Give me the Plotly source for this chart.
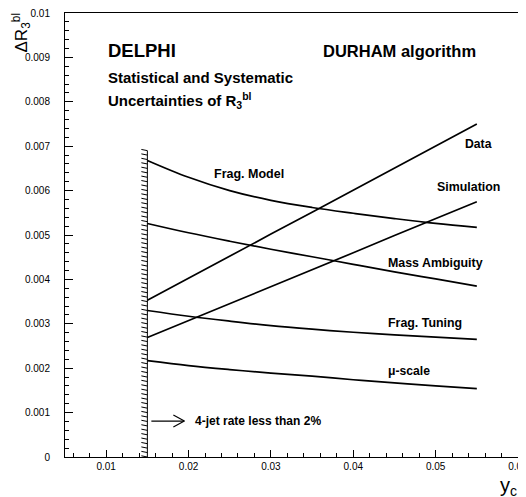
import plotly.graph_objects as go

# ---- data ----
yc = [0.015, 0.020, 0.025, 0.030, 0.035, 0.040, 0.045, 0.050, 0.055]
data_unc = [0.00353, 0.00403, 0.00453, 0.00502, 0.00551, 0.00601, 0.00650, 0.00700, 0.00750]
simulation = [0.00269, 0.00307, 0.00345, 0.00384, 0.00422, 0.00460, 0.00499, 0.00537, 0.00575]
frag_model = [0.00668, 0.00630, 0.00600, 0.00578, 0.00562, 0.00549, 0.00537, 0.00526, 0.00517]
mass_ambiguity = [0.00526, 0.00505, 0.00486, 0.00468, 0.00451, 0.00434, 0.00417, 0.00401, 0.00385]
frag_tuning = [0.00330, 0.00317, 0.00306, 0.00296, 0.00288, 0.00281, 0.00275, 0.00270, 0.00265]
mu_scale = [0.00217, 0.00206, 0.00197, 0.00189, 0.00182, 0.00174, 0.00167, 0.00160, 0.00154]

x_tickvals = [0.01, 0.02, 0.03, 0.04, 0.05, 0.06]
x_ticktext = ["0.01", "0.02", "0.03", "0.04", "0.05", "0.06"]
y_tickvals = [0, 0.001, 0.002, 0.003, 0.004, 0.005, 0.006, 0.007, 0.008, 0.009, 0.01]
y_ticktext = ["0", "0.001", "0.002", "0.003", "0.004", "0.005", "0.006", "0.007", "0.008", "0.009", "0.01"]

cut_x = 0.015          # 4-jet rate < 2% boundary
cut_top = 0.0069
hatch_step = 0.0001

FONT = "Liberation Sans"
W, H = 518, 489
L, R, T, B = 57, 8, 5, 40
x_range = [0.005, 0.06]
y_range = [0, 0.01]
px_x = (x_range[1] - x_range[0]) / (W - L - R)
px_y = (y_range[1] - y_range[0]) / (H - T - B)

fig = go.Figure()

for s, shp in [(data_unc, "linear"), (simulation, "linear"), (frag_model, "spline"),
               (mass_ambiguity, "spline"), (frag_tuning, "spline"), (mu_scale, "spline")]:
    fig.add_trace(go.Scatter(x=yc, y=s, mode="lines", line=dict(color="black", width=1.7, shape=shp),
                             hoverinfo="skip", showlegend=False))

# cut line with hatching
hx, hy = [cut_x, cut_x, None], [0, cut_top, None]
n = int(round(cut_top / hatch_step))
for i in range(n + 1):
    y0 = i * hatch_step
    hx += [cut_x, cut_x - 6 * px_x, None]
    hy += [y0, y0 + 1.2 * px_y, None]
fig.add_trace(go.Scatter(x=hx, y=hy, mode="lines", line=dict(color="black", width=1),
                         hoverinfo="skip", showlegend=False))

# arrow
ay = 0.00081
ax0 = cut_x + 4 * px_x
ax1 = cut_x + 37 * px_x
fig.add_trace(go.Scatter(
    x=[ax0, ax1, None, ax1 - 11 * px_x, ax1, ax1 - 11 * px_x],
    y=[ay, ay, None, ay + 6 * px_y, ay, ay - 6 * px_y],
    mode="lines", line=dict(color="black", width=1.2), hoverinfo="skip", showlegend=False))

def txt(x, y, s, size=12, bold=True, xanchor="left", xref="x", yref="y", angle=0):
    fig.add_annotation(x=x, y=y, xref=xref, yref=yref, text=("<b>%s</b>" % s) if bold else s,
                       showarrow=False, xanchor=xanchor, yanchor="middle", textangle=angle,
                       font=dict(family=FONT, size=size, color="black"))

txt(0.0100, 0.00915, "DELPHI", size=18.5)
txt(0.0100, 0.00855, "Statistical and Systematic", size=15)
txt(0.0100, 0.00803, "Uncertainties of R<sub>3</sub><sup>bl</sup>", size=15)
txt(0.0361, 0.00915, "DURHAM algorithm", size=16.5)
txt(0.0229, 0.00638, "Frag. Model", size=12.5)
txt(0.0533, 0.00706, "Data", size=12.2)
txt(0.0499, 0.00608, "Simulation", size=12.4)
txt(0.0440, 0.00436, "Mass Ambiguity", size=12.4)
txt(0.0440, 0.00302, "Frag. Tuning", size=12.4)
txt(0.0440, 0.00193, "μ-scale", size=12.2)
txt(0.0205, 0.00081, "4-jet rate less than 2%", size=12)

txt(-0.096, 0.955, "ΔR<sub>3</sub><sup>bl</sup>", size=17, bold=False, xanchor="center",
    xref="paper", yref="paper", angle=-90)
txt(0.98, -0.066, "y<sub>c</sub>", size=20, bold=False, xanchor="center", xref="paper", yref="paper")

axis_common = dict(showline=True, linecolor="black", linewidth=1, mirror=True, showgrid=False,
                   zeroline=False, ticks="inside", tickcolor="black", tickwidth=1,
                   ticklabeloverflow="allow", automargin=False,
                   tickfont=dict(family=FONT, size=10, color="black"))
fig.update_xaxes(range=x_range, tickvals=x_tickvals, ticktext=x_ticktext, ticklen=7,
                 minor=dict(dtick=0.002, tick0=0, ticks="inside", ticklen=4, tickcolor="black"),
                 **axis_common)
fig.update_yaxes(range=y_range, tickvals=y_tickvals, ticktext=y_ticktext, ticklen=8,
                 ticklabelstandoff=12,
                 minor=dict(dtick=0.0002, tick0=0, ticks="inside", ticklen=4, tickcolor="black"),
                 **axis_common)
fig.update_layout(width=W, height=H, margin=dict(l=L, r=R, t=T, b=B, autoexpand=False),
                  plot_bgcolor="white", paper_bgcolor="white", showlegend=False)

fig.write_html("out.html")
